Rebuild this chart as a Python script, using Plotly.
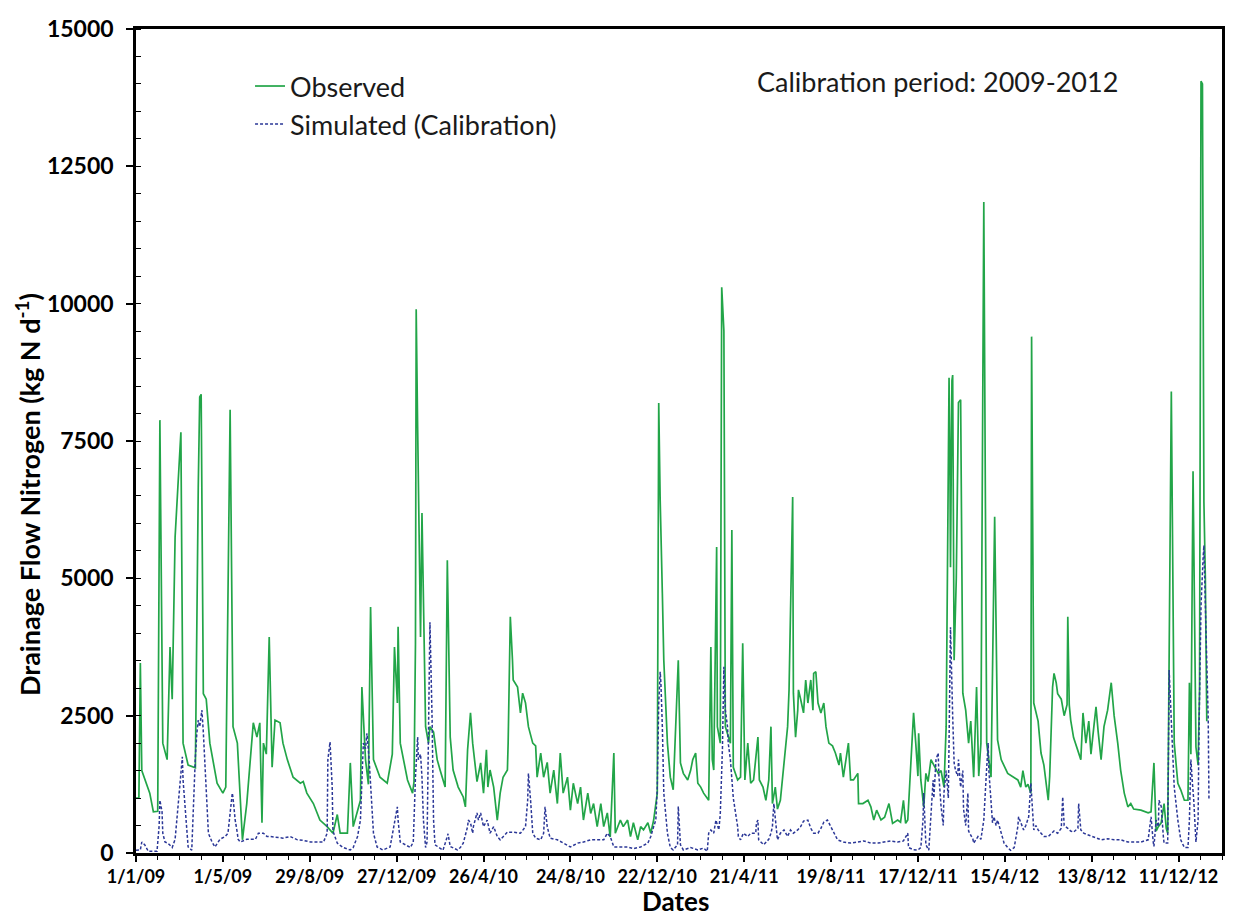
import pandas as pd
import plotly.graph_objects as go

START = "2009-01-01"

# Observed drainage-flow nitrogen: day offset from 1/1/2009 and value (kg N/d)
obs_days = [
    0, 4, 6, 8, 19, 24, 30, 33, 37, 43,
    47, 50, 54, 58, 62, 65, 72, 82, 84, 86,
    88, 90, 93, 97, 102, 112, 120, 124, 130, 134,
    140, 144, 147, 153, 162, 167, 171, 174, 176, 180,
    184, 188, 192, 199, 203, 209, 217, 227, 231, 236,
    245, 254, 264, 272, 278, 282, 292, 296, 300, 310,
    312, 317, 321, 324, 328, 337, 347, 354, 357, 361,
    362, 365, 375, 382, 384, 386, 387, 389, 390, 393,
    395, 400, 404, 406, 411, 416, 420, 427, 430, 434,
    438, 445, 452, 455, 458, 462, 465, 469, 471, 476,
    480, 484, 486, 489, 494, 499, 503, 507, 513, 514,
    517, 520, 521, 527, 531, 534, 538, 542, 548, 552,
    554, 559, 563, 568, 572, 577, 582, 586, 590, 596,
    600, 604, 610, 614, 618, 624, 628, 632, 637, 642,
    646, 651, 655, 660, 662, 669, 673, 679, 683, 687,
    693, 697, 701, 707, 711, 715, 720, 722, 724, 727,
    729, 734, 738, 742, 749, 752, 756, 762, 766, 769,
    773, 776, 780, 784, 791, 794, 796, 798, 802, 803,
    807, 809, 812, 814, 818, 821, 823, 825, 831, 835,
    838, 841, 845, 849, 853, 859, 861, 866, 870, 874,
    877, 879, 883, 886, 890, 895, 900, 902, 904, 907,
    908, 911, 914, 915, 918, 922, 925, 928, 932, 935,
    936, 939, 942, 946, 950, 953, 957, 962, 966, 971,
    973, 977, 984, 987, 991, 997, 998, 1004, 1011, 1015,
    1019, 1023, 1029, 1034, 1040, 1045, 1052, 1056, 1060, 1063,
    1066, 1070, 1074, 1077, 1080, 1081, 1084, 1088, 1091, 1094,
    1098, 1102, 1108, 1112, 1116, 1119, 1122, 1123, 1124, 1125,
    1127, 1128, 1130, 1133, 1136, 1139, 1142, 1146, 1150, 1153,
    1157, 1161, 1164, 1167, 1171, 1175, 1181, 1186, 1190, 1195,
    1204, 1213, 1218, 1222, 1225, 1229, 1232, 1236, 1237, 1240,
    1246, 1250, 1254, 1260, 1262, 1266, 1268, 1271, 1273, 1278,
    1282, 1286, 1287, 1289, 1291, 1295, 1301, 1305, 1308, 1312,
    1316, 1319, 1323, 1326, 1329, 1333, 1337, 1342, 1347, 1351,
    1356, 1360, 1365, 1370, 1374, 1378, 1388, 1398, 1402, 1406,
    1409, 1412, 1416, 1420, 1423, 1425, 1430, 1432, 1434, 1439,
    1443, 1448, 1453, 1455, 1457, 1460, 1464, 1467, 1469, 1471,
    1473, 1475, 1477, 1479,
]
obs_values = [
    1000, 1000, 3460, 1500, 1090, 750, 760, 7880, 2000, 1700,
    3750, 2800, 5750, 6800, 7660, 2000, 1600, 1550, 4480, 6660,
    8300, 8350, 2900, 2800, 2000, 1270, 1090, 1200, 8070, 2300,
    2000, 1090, 240, 900, 2370, 2110, 2370, 550, 2000, 1800,
    3930, 1560, 2420, 2370, 2000, 1700, 1380, 1270, 1300, 1090,
    900, 600, 480, 360, 700, 360, 360, 1640, 480, 960,
    3020, 1700, 1250, 4480, 1700, 1380, 1270, 1800, 3750, 2730,
    4120, 2000, 1330, 1090, 1300, 3800, 9900, 7750, 6900, 3930,
    6190, 2300, 2000, 2300, 2200, 1700, 1510, 1200, 5330, 2110,
    1510, 1200, 1020, 840, 1880, 2550, 2000, 1450, 1300, 1640,
    1090, 1880, 1200, 1510, 1200, 600, 1090, 1380, 1510, 2000,
    4300, 3510, 3150, 3020, 2550, 2910, 2730, 2300, 2000, 1950,
    1380, 1820, 1380, 1650, 1090, 1510, 900, 1820, 1090, 1380,
    780, 1270, 900, 1200, 600, 1090, 720, 900, 480, 900,
    480, 730, 290, 1820, 360, 600, 480, 600, 300, 550,
    240, 480, 420, 550, 360, 600, 1090, 8190, 6430, 4730,
    3510, 2000, 1380, 1150, 3510, 1640, 1450, 1330, 1500, 1700,
    1820, 1270, 1200, 1090, 960, 3750, 1700, 1510, 5570, 2300,
    2000, 10300, 9500, 2300, 2100, 2000, 5880, 1560, 1330, 1380,
    3820, 1330, 2000, 1270, 1330, 2110, 1330, 1200, 960, 1330,
    2300, 900, 1200, 800, 960, 1700, 2300, 2970, 4730, 6480,
    2910, 2110, 2600, 2970, 2800, 2550, 3150, 2730, 3150, 2600,
    3270, 3300, 2730, 2550, 2730, 2300, 2000, 1950, 1820, 1600,
    1820, 1380, 2000, 1330, 1330, 1450, 900, 900, 960, 840,
    600, 780, 600, 650, 900, 540, 600, 560, 960, 540,
    600, 1700, 2550, 2000, 1400, 2180, 1330, 840, 1450, 1300,
    1700, 1600, 1450, 1500, 1200, 2300, 8560, 8650, 7500, 5200,
    8600, 8700, 3510, 5000, 8200, 8250, 2910, 2600, 2000, 2400,
    1380, 3020, 1400, 2000, 11850, 2000, 1380, 6120, 2060, 1700,
    1450, 1380, 1330, 1200, 1500, 1200, 1250, 1090, 9400, 2730,
    2400, 1820, 1600, 960, 1400, 3020, 3270, 3100, 2900, 2800,
    2500, 2700, 4300, 2700, 2420, 2100, 1880, 1700, 2550, 2000,
    2400, 1800, 2300, 2660, 2200, 1700, 2300, 2600, 3100, 2500,
    2000, 1510, 1090, 840, 900, 800, 780, 730, 750, 1640,
    400, 480, 550, 900, 450, 360, 8400, 5000, 2000, 1270,
    1150, 960, 960, 3100, 1800, 6950, 1930, 1600, 3000, 14050,
    14000, 6400, 5000, 2400,
]

# Simulated (calibration) series
sim_days = [
    0, 6, 8, 12, 17, 24, 29, 32, 33, 36,
    37, 40, 44, 50, 54, 58, 61, 64, 65, 68,
    71, 72, 77, 79, 82, 84, 86, 88, 91, 93,
    95, 98, 100, 105, 109, 116, 123, 127, 133, 134,
    137, 140, 141, 144, 153, 165, 169, 176, 181, 185,
    195, 203, 213, 223, 231, 241, 250, 259, 264, 265,
    268, 271, 272, 278, 286, 296, 300, 306, 310, 312,
    314, 317, 319, 322, 324, 327, 328, 333, 341, 351,
    355, 361, 362, 365, 372, 379, 383, 386, 389, 390,
    393, 395, 397, 400, 402, 404, 406, 409, 411, 413,
    420, 424, 430, 431, 434, 444, 448, 452, 458, 459,
    462, 465, 466, 471, 473, 476, 480, 485, 489, 494,
    499, 503, 513, 521, 531, 538, 541, 542, 545, 548,
    552, 559, 563, 565, 568, 572, 582, 590, 600, 610,
    618, 628, 637, 646, 651, 655, 660, 669, 679, 687,
    697, 707, 711, 715, 718, 720, 722, 724, 725, 727,
    729, 734, 738, 742, 748, 749, 752, 756, 766, 776,
    784, 789, 791, 794, 798, 801, 803, 805, 807, 810,
    812, 814, 817, 818, 821, 825, 831, 832, 835, 839,
    845, 849, 856, 857, 859, 860, 867, 874, 877, 879,
    881, 883, 886, 890, 895, 900, 904, 908, 914, 918,
    922, 928, 932, 936, 942, 946, 950, 955, 960, 964,
    969, 977, 987, 997, 1005, 1015, 1025, 1033, 1042, 1052,
    1060, 1066, 1067, 1074, 1080, 1084, 1087, 1088, 1091, 1095,
    1098, 1101, 1102, 1105, 1108, 1109, 1112, 1115, 1116, 1119,
    1122, 1123, 1125, 1128, 1130, 1132, 1135, 1136, 1139, 1142,
    1143, 1146, 1149, 1150, 1156, 1157, 1163, 1167, 1171, 1174,
    1177, 1178, 1181, 1183, 1185, 1188, 1190, 1195, 1199, 1204,
    1208, 1213, 1218, 1219, 1222, 1226, 1229, 1233, 1236, 1239,
    1240, 1243, 1246, 1250, 1254, 1260, 1264, 1268, 1273, 1278,
    1280, 1282, 1287, 1291, 1295, 1301, 1302, 1305, 1309, 1315,
    1319, 1323, 1329, 1333, 1342, 1351, 1360, 1370, 1378, 1388,
    1398, 1399, 1402, 1405, 1406, 1409, 1412, 1413, 1416, 1419,
    1420, 1425, 1427, 1430, 1432, 1434, 1439, 1443, 1448, 1453,
    1455, 1457, 1459, 1461, 1464, 1467, 1468, 1471, 1474, 1475,
    1478, 1481, 1482,
]
sim_values = [
    50, 55, 200, 150, 30, 30, 30, 500, 960, 750,
    360, 200, 180, 100, 250, 840, 1330, 1750, 1330, 840,
    360, 110, 50, 900, 1750, 2180, 2420, 2300, 2600, 2200,
    1640, 840, 360, 200, 110, 250, 300, 360, 1090, 1000,
    600, 360, 250, 200, 250, 250, 360, 360, 300, 300,
    290, 270, 300, 240, 230, 200, 200, 200, 360, 1700,
    2020, 1200, 400, 180, 100, 55, 100, 300, 600, 1330,
    2000, 1900, 2180, 1700, 1200, 700, 360, 110, 55, 110,
    420, 840, 600, 200, 150, 100, 200, 1380, 2110, 1700,
    1800, 1380, 600, 100, 200, 2420, 4200, 2420, 600, 150,
    90, 50, 300, 350, 120, 55, 100, 180, 480, 600,
    550, 360, 480, 730, 600, 730, 480, 600, 360, 480,
    300, 240, 380, 380, 360, 480, 960, 1450, 960, 360,
    270, 240, 360, 840, 480, 270, 240, 180, 110, 180,
    200, 240, 240, 240, 360, 300, 110, 110, 110, 80,
    110, 180, 300, 480, 600, 1200, 2730, 3300, 3100, 2300,
    1090, 360, 100, 55, 150, 850, 150, 55, 100, 55,
    90, 30, 360, 420, 360, 600, 480, 420, 700, 1900,
    3390, 2600, 2300, 2000, 1700, 1000, 480, 300, 240, 360,
    300, 360, 360, 550, 600, 240, 150, 250, 360, 480,
    900, 600, 240, 360, 420, 300, 420, 360, 420, 480,
    580, 600, 450, 360, 360, 450, 560, 600, 480, 360,
    240, 200, 180, 200, 220, 180, 180, 200, 220, 200,
    220, 360, 100, 60, 55, 100, 600, 1090, 150, 50,
    600, 1330, 1000, 1700, 1820, 1400, 840, 500, 1100, 1500,
    1000, 2110, 4110, 2500, 1640, 1500, 1400, 1700, 1200, 1500,
    800, 500, 1090, 400, 250, 180, 300, 250, 600, 1330,
    2000, 1500, 840, 550, 660, 500, 600, 360, 180, 100,
    50, 100, 480, 660, 550, 420, 500, 660, 1270, 750,
    420, 500, 420, 360, 300, 300, 360, 400, 360, 450,
    1020, 500, 450, 400, 380, 450, 900, 420, 360, 330,
    300, 280, 250, 240, 260, 240, 240, 200, 200, 200,
    240, 360, 660, 200, 120, 600, 480, 960, 850, 300,
    180, 180, 3330, 2400, 1600, 1200, 600, 240, 100, 100,
    600, 1700, 1300, 960, 200, 600, 2000, 4500, 5400, 5600,
    4000, 2420, 960,
]

tick_dates = ["2009-01-01", "2009-05-01", "2009-08-29", "2009-12-27", "2010-04-26",
              "2010-08-24", "2010-12-22", "2011-04-21", "2011-08-19", "2011-12-17",
              "2012-04-15", "2012-08-13", "2012-12-11"]
tick_labels = ["1/1/09", "1/5/09", "29/8/09", "27/12/09", "26/4/10", "24/8/10",
               "22/12/10", "21/4/11", "19/8/11", "17/12/11", "15/4/12", "13/8/12",
               "11/12/12"]

assert len(obs_days) == len(obs_values)
assert len(sim_days) == len(sim_values)

base = pd.Timestamp(START)
obs_x = [base + pd.Timedelta(days=d) for d in obs_days]
sim_x = [base + pd.Timedelta(days=d) for d in sim_days]

FONT = "Lato"
GREEN = "#22a548"
BLUE = "#2b3797"

fig = go.Figure()
fig.add_trace(go.Scatter(x=obs_x, y=obs_values, mode="lines", name="Observed",
                         line=dict(color=GREEN, width=1.7)))
fig.add_trace(go.Scatter(x=sim_x, y=sim_values, mode="lines", name="Simulated (Calibration)",
                         line=dict(color=BLUE, width=1.5, dash="3px,2px")))

fig.update_layout(
    width=1228, height=908,
    margin=dict(l=128, r=14, t=21, b=63),
    paper_bgcolor="white", plot_bgcolor="white",
    font=dict(family=FONT, color="black"),
    showlegend=True,
    legend=dict(x=0.105, y=0.96, xanchor="left", yanchor="top",
                font=dict(size=27, family=FONT, color="#1a1a1a"),
                bgcolor="rgba(0,0,0,0)", borderwidth=0),
    xaxis=dict(
        type="date", range=["2009-01-01", "2013-02-09"],
        tickmode="array", tickvals=tick_dates, ticktext=tick_labels,
        tickfont=dict(size=18, family=FONT, color="black", weight="bold"),
        ticks="outside", ticklen=6, tickwidth=1.5, tickcolor="black",
        minor=dict(ticks="outside", ticklen=4, tickwidth=1, tickcolor="black",
                   dtick=30 * 86400000, tick0="2009-01-01"),
        showline=True, linecolor="black", linewidth=2.5, mirror=True,
        showgrid=False, zeroline=False, automargin=False,
    ),
    yaxis=dict(
        range=[0, 15000], tickmode="linear", tick0=0, dtick=2500, tickformat="d",
        tickfont=dict(size=23, family=FONT, color="black", weight="bold"),
        ticks="outside", ticklen=7, tickwidth=1.5, tickcolor="black",
        ticklabelstandoff=8,
        minor=dict(ticks="inside", ticklen=5, tickwidth=1, tickcolor="black", dtick=500),
        showline=True, linecolor="black", linewidth=2.5, mirror=True,
        showgrid=False, zeroline=False, automargin=False,
    ),
    annotations=[
        dict(text="Calibration period: 2009-2012", xref="paper", yref="paper",
             x=0.7376, y=0.9357, xanchor="center", yanchor="middle", showarrow=False,
             font=dict(size=27, family=FONT, color="#1a1a1a")),
        dict(text="<b>Drainage Flow Nitrogen (kg N d<sup>-1</sup>)</b>", xref="paper", yref="paper",
             x=-0.0994, y=0.4345, xanchor="center", yanchor="middle", textangle=-90,
             showarrow=False, font=dict(size=27, family=FONT, color="black")),
        dict(text="<b>Dates</b>", xref="paper", yref="paper",
             x=0.497, y=-0.0585, xanchor="center", yanchor="middle", showarrow=False,
             font=dict(size=26, family=FONT, color="black")),
    ],
)

fig.write_html("out.html")
